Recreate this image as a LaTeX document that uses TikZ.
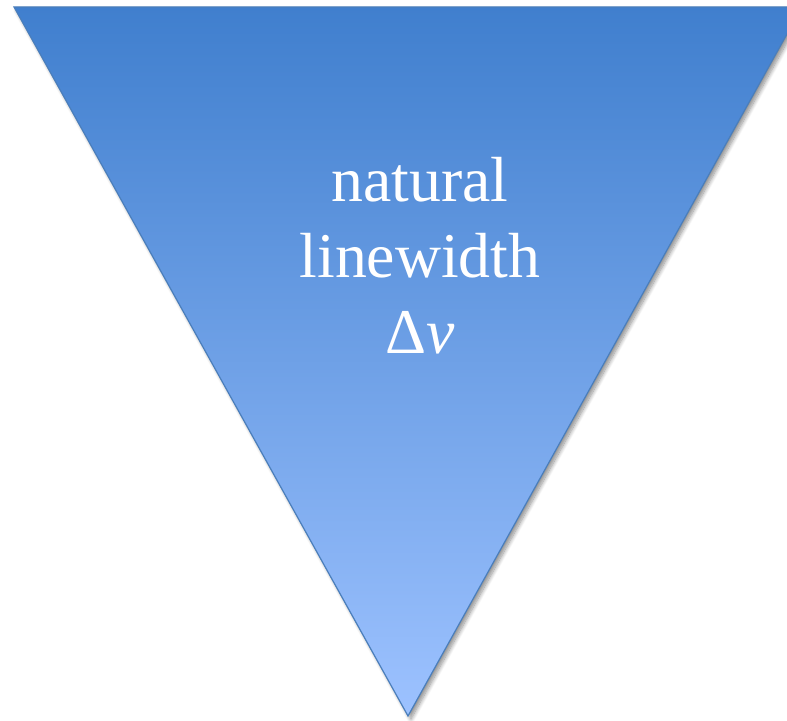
\documentclass[tikz,border=0pt]{standalone}
\usepackage{fontspec}
\setmainfont{Liberation Serif}
\usetikzlibrary{shadows.blur}
\definecolor{triTop}{RGB}{64,127,206}
\definecolor{triBot}{RGB}{157,194,255}
\definecolor{triEdge}{RGB}{74,126,187}
\begin{document}
\begin{tikzpicture}[x=1bp,y=-1bp,
  funnel/.style={draw=triEdge, line width=1.2bp, line join=miter,
    top color=triTop, bottom color=triBot,
    blur shadow={shadow xshift=3bp, shadow yshift=-3bp, shadow blur steps=10,
      shadow blur radius=4bp, shadow opacity=45}},
  caption/.style={text=white, align=center,
    font=\fontsize{64}{76}\selectfont}]
  \useasboundingbox (0,0) rectangle (787,721);
  % inverted triangle, its right corner runs past the page edge
  \coordinate (tl) at (14,7);
  \coordinate (tr) at (802,7);
  \coordinate (apex) at (408,716);
  \path[funnel] (tl) -- (tr) -- (apex) -- cycle;
  % base anchor sits on the last line's baseline
  \node[caption, anchor=base] (label) at (420,353)
    {natural\\linewidth\\Δ\textit{ν}};
\end{tikzpicture}
\end{document}
